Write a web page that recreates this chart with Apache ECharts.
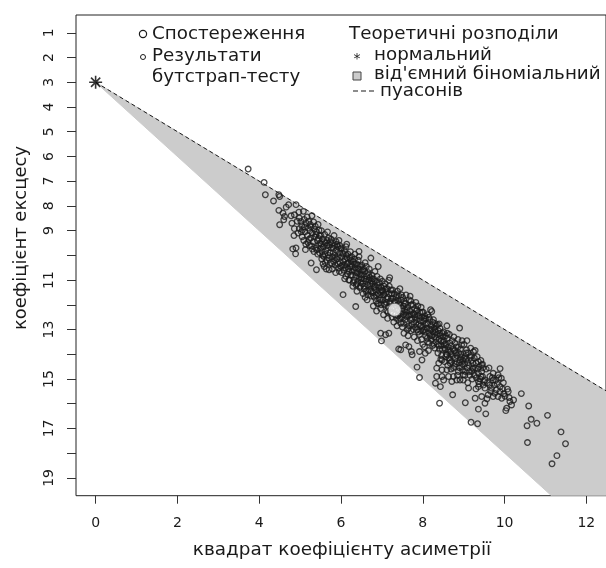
<!DOCTYPE html>
<html>
<head>
<meta charset="utf-8">
<script src="https://cdn.jsdelivr.net/npm/echarts@6/dist/echarts.min.js"></script>
<style>html,body{margin:0;padding:0;background:#fff}#c{width:606px;height:568px}</style>
</head>
<body>
<div id="c"></div>
<script>
// ---- data ----
var xTickValues = [0, 2, 4, 6, 8, 10, 12];
var yTickValues = [1,2,3,4,5,6,7,8,9,10,11,12,13,14,15,16,17,18,19];
var yTickLabels = [1,2,3,4,5,6,7,8,9,11,13,15,17,19];
var normalPoint = [[0, 3]];
var observation = [[7.31, 12.2]];
var poissonLine = [[0, 3], [14, 17]];
var negbinRegion = [[0, 3], [14, 17], [14, 24]];
var bootstrap = [
[3.73,6.51],[4.12,7.05],[4.15,7.55],[4.35,7.80],[4.48,7.55],[4.50,7.62],[4.48,8.18],[4.58,8.29],[4.62,8.43],[4.60,8.56],[4.72,7.95],[4.50,8.76],[4.66,8.05],
[4.90,7.95],[4.78,8.40],[4.86,8.36],[4.98,8.49],[4.86,8.92],[4.98,8.92],[4.82,9.74],[4.90,9.70],[4.89,9.94],[4.80,8.70],[4.93,8.62],[4.95,9.10],[4.85,9.20],[4.97,8.25],
[5.02,8.63],[5.08,8.22],[5.06,8.96],[5.13,9.77],[5.04,8.80],[5.10,8.55],[5.12,9.05],[5.15,8.70],[5.18,9.20],[5.20,8.90],[5.22,9.35],[5.05,9.25],[5.17,8.45],[5.24,9.00],[5.09,9.40],[5.21,8.62],[5.14,9.55],[5.23,9.60],
[5.29,8.40],[5.27,10.31],[5.40,10.58],[5.27,8.85],[5.30,9.10],[5.32,9.45],[5.35,8.95],[5.36,9.25],[5.38,9.70],[5.40,9.05],[5.42,9.40],[5.44,8.75],[5.45,9.60],[5.47,9.20],[5.48,9.90],[5.30,9.75],[5.33,8.65],[5.43,9.95],[5.49,9.50],[5.26,9.30],[5.39,9.15],[5.46,8.98],
[5.59,10.45],[5.71,10.58],[5.51,9.20],[5.52,9.55],[5.54,9.85],[5.55,9.35],[5.57,9.65],[5.58,10.05],[5.60,9.15],[5.62,9.50],[5.63,9.80],[5.65,10.20],[5.66,9.40],[5.68,9.70],[5.69,10.00],[5.70,9.30],[5.72,9.58],[5.73,9.90],[5.74,10.30],[5.53,10.15],[5.61,9.95],[5.67,9.05],[5.56,10.35],[5.64,10.55],
[5.76,9.35],[5.77,9.70],[5.78,10.05],[5.80,9.50],[5.81,9.88],[5.82,10.25],[5.84,9.60],[5.85,10.00],[5.86,10.40],[5.88,9.45],[5.89,9.80],[5.90,10.15],[5.92,9.65],[5.93,10.05],[5.94,10.50],[5.95,9.40],[5.97,9.90],[5.98,10.30],[5.99,9.75],[5.79,10.55],[5.87,10.70],[5.96,10.65],[5.83,9.20],
[6.05,11.59],[6.01,9.70],[6.02,10.05],[6.03,10.40],[6.04,9.90],[6.06,10.25],[6.07,10.60],[6.08,9.80],[6.10,10.15],[6.11,10.50],[6.12,9.65],[6.13,10.00],[6.15,10.35],[6.16,10.75],[6.17,9.95],[6.18,10.30],[6.20,10.65],[6.21,10.10],[6.22,10.45],[6.23,9.85],[6.24,10.80],[6.09,10.95],[6.19,11.00],[6.14,9.55],[6.25,10.20],
[6.36,12.07],[6.44,9.84],[6.26,10.05],[6.27,10.45],[6.28,10.80],[6.30,10.25],[6.31,10.60],[6.32,11.00],[6.33,10.15],[6.35,10.50],[6.36,10.85],[6.37,11.20],[6.38,10.35],[6.40,10.70],[6.41,11.05],[6.42,10.20],[6.43,10.55],[6.45,10.90],[6.46,11.30],[6.47,10.45],[6.48,10.80],[6.49,11.10],[6.29,11.25],[6.39,11.45],[6.34,9.95],[6.44,10.05],[6.50,10.65],
[6.73,10.11],[6.51,10.40],[6.52,10.80],[6.53,11.15],[6.55,10.55],[6.56,10.95],[6.57,11.35],[6.58,10.65],[6.60,11.05],[6.61,11.45],[6.62,10.45],[6.63,10.85],[6.65,11.20],[6.66,11.60],[6.67,10.70],[6.68,11.00],[6.70,11.40],[6.71,10.90],[6.72,11.25],[6.74,11.65],[6.54,11.55],[6.64,11.80],[6.59,10.30],[6.69,10.55],[6.75,11.05],
[6.91,10.45],[6.97,13.15],[6.99,13.46],[6.76,10.80],[6.77,11.15],[6.78,11.50],[6.80,10.95],[6.81,11.30],[6.82,11.70],[6.84,11.05],[6.85,11.40],[6.86,11.85],[6.88,10.85],[6.89,11.20],[6.90,11.55],[6.92,11.95],[6.93,11.10],[6.94,11.45],[6.95,11.80],[6.96,10.95],[6.98,11.30],[6.99,11.70],[6.79,12.05],[6.87,12.25],[6.83,10.65],[6.97,12.15],
[7.09,13.21],[7.17,13.15],[7.01,11.05],[7.02,11.45],[7.03,11.80],[7.05,11.25],[7.06,11.60],[7.07,12.00],[7.08,11.15],[7.10,11.50],[7.11,11.90],[7.12,12.25],[7.13,11.35],[7.15,11.70],[7.16,12.10],[7.17,11.00],[7.18,11.55],[7.20,11.85],[7.21,12.30],[7.22,11.40],[7.23,11.75],[7.24,12.15],[7.04,12.40],[7.14,12.55],[7.19,10.90],[7.25,12.50],
[7.26,11.40],[7.27,11.75],[7.28,12.10],[7.30,11.55],[7.32,11.90],[7.33,12.40],[7.34,11.70],[7.35,12.55],[7.36,12.05],[7.38,11.45],[7.39,11.85],[7.40,12.20],[7.41,12.60],[7.42,11.65],[7.43,12.00],[7.45,12.35],[7.46,12.75],[7.47,11.80],[7.48,12.15],[7.49,12.50],[7.29,12.70],[7.37,12.85],[7.44,11.35],[7.50,12.90],
[7.46,13.82],[7.58,13.62],[7.66,13.69],[7.41,13.79],[7.51,11.70],[7.52,12.05],[7.53,12.40],[7.55,11.85],[7.56,12.20],[7.57,12.60],[7.58,11.95],[7.60,12.30],[7.61,12.70],[7.62,13.00],[7.63,12.10],[7.65,12.45],[7.66,12.85],[7.67,11.80],[7.68,12.25],[7.70,12.60],[7.71,13.05],[7.72,12.00],[7.73,12.40],[7.74,12.80],[7.54,13.15],[7.64,13.25],[7.59,11.60],[7.69,11.65],
[7.92,14.94],[7.92,13.89],[7.74,14.02],[7.72,13.89],[7.86,14.52],[7.98,14.23],[7.76,12.00],[7.77,12.35],[7.78,12.70],[7.80,12.15],[7.81,12.50],[7.82,12.90],[7.84,12.25],[7.85,12.60],[7.86,13.00],[7.88,12.05],[7.89,12.45],[7.90,12.80],[7.92,13.20],[7.93,12.30],[7.94,12.65],[7.95,13.05],[7.96,12.10],[7.98,12.50],[7.99,12.90],[7.79,13.30],[7.87,13.45],[7.83,11.90],[7.97,13.40],[8.00,13.60],
[8.22,12.27],[8.06,13.96],[8.01,12.30],[8.02,12.65],[8.03,13.00],[8.05,12.45],[8.06,12.80],[8.07,13.25],[8.08,12.55],[8.10,12.95],[8.11,13.35],[8.12,12.40],[8.13,12.75],[8.15,13.15],[8.16,13.55],[8.17,12.60],[8.18,13.00],[8.20,13.40],[8.21,12.85],[8.23,13.25],[8.24,13.65],[8.04,13.70],[8.14,13.85],[8.19,12.20],[8.25,13.10],
[8.40,12.77],[8.41,15.98],[8.31,15.17],[8.34,14.56],[8.39,14.36],[8.47,14.23],[8.47,14.90],[8.34,14.90],[8.43,15.31],[8.47,14.63],[8.26,12.60],[8.27,12.95],[8.28,13.30],[8.30,12.75],[8.31,13.10],[8.32,13.50],[8.33,12.85],[8.35,13.20],[8.36,13.60],[8.37,13.95],[8.38,13.05],[8.40,13.40],[8.41,13.80],[8.42,12.95],[8.43,13.25],[8.45,13.65],[8.46,14.05],[8.48,13.15],[8.49,13.50],[8.29,13.75],[8.44,14.20],
[8.59,12.85],[8.73,15.64],[8.69,13.98],[8.55,13.82],[8.59,14.02],[8.67,14.36],[8.59,14.63],[8.75,14.56],[8.63,14.90],[8.71,15.10],[8.51,15.04],[8.75,14.90],[8.51,13.10],[8.52,13.45],[8.54,13.75],[8.56,13.25],[8.57,13.60],[8.58,14.00],[8.60,13.35],[8.62,13.70],[8.64,14.15],[8.65,13.20],[8.66,13.55],[8.68,13.90],[8.70,14.30],[8.72,13.45],[8.74,13.80],[8.53,14.30],[8.61,14.45],[8.69,14.60],
[8.90,12.94],[8.79,13.55],[8.95,13.62],[8.79,14.16],[8.91,14.23],[8.99,14.83],[8.83,15.04],[8.95,14.50],[8.87,14.70],[8.91,15.04],[8.99,15.04],[8.76,13.30],[8.78,13.85],[8.80,14.40],[8.82,13.70],[8.84,14.05],[8.86,13.40],[8.88,13.95],[8.89,14.35],[8.92,13.80],[8.94,14.10],[8.96,13.45],[8.98,14.25],[8.85,14.85],[8.97,14.65],
[9.04,15.96],[9.18,16.75],[9.12,15.37],[9.04,14.09],[9.16,14.12],[9.22,14.36],[9.07,13.82],[9.20,14.70],[9.04,14.70],[9.01,13.60],[9.03,14.40],[9.06,14.20],[9.09,14.55],[9.11,13.95],[9.13,14.45],[9.15,14.85],[9.17,13.75],[9.19,14.25],[9.21,15.00],[9.23,14.60],[9.24,13.90],[9.10,15.15],[9.08,13.45],
[9.28,13.85],[9.34,16.81],[9.36,16.22],[9.28,15.78],[9.44,15.71],[9.36,15.10],[9.36,14.30],[9.44,14.43],[9.36,14.77],[9.44,14.70],[9.36,15.31],[9.26,14.15],[9.29,14.55],[9.31,14.95],[9.33,14.10],[9.38,14.50],[9.40,15.00],[9.42,14.25],[9.46,14.90],[9.48,15.25],[9.30,15.40],[9.47,14.55],
[9.54,16.41],[9.52,15.98],[9.52,15.04],[9.64,14.90],[9.72,14.77],[9.68,15.37],[9.72,15.71],[9.60,15.64],[9.52,15.37],[9.64,15.24],[9.72,15.04],[9.76,15.58],[9.55,14.60],[9.58,15.15],[9.62,14.55],[9.66,15.50],[9.70,14.95],[9.74,15.25],[9.57,15.80],
[9.89,14.58],[9.92,14.97],[9.80,15.44],[9.89,15.51],[9.84,15.71],[9.93,15.78],[9.84,14.83],[9.89,15.31],[9.78,15.05],[9.82,15.20],[9.86,14.95],[9.95,15.40],[9.98,15.60],[9.97,15.15],
[10.07,15.41],[10.09,15.51],[10.13,15.91],[10.05,16.18],[10.03,16.28],[10.01,15.70],[10.11,15.75],[10.17,16.05],[10.22,15.85],
[10.41,15.59],[10.59,16.09],[10.65,16.63],[10.79,16.79],[10.55,16.89],[11.05,16.47],[10.56,17.57],[11.38,17.14],[11.49,17.62],[11.28,18.10],[11.16,18.43],
[5.03,9.05],[5.11,8.85],[5.19,9.48],[5.25,8.75],[5.28,9.62],[5.34,9.85],[5.37,8.82],[5.41,9.78],[5.45,9.32],[5.50,9.72],
[5.52,9.00],[5.55,10.00],[5.58,9.45],[5.62,10.30],[5.66,9.60],[5.70,10.10],[5.74,9.45],[5.78,10.35],[5.82,9.72],[5.86,10.10],[5.90,9.55],[5.93,10.35],[5.97,9.60],[6.00,10.45],
[6.02,10.70],[6.06,9.95],[6.09,10.40],[6.12,10.85],[6.15,10.10],[6.18,10.55],[6.21,11.00],[6.24,10.35],[6.27,10.65],[6.30,11.10],[6.33,10.35],[6.36,10.70],[6.39,11.15],[6.42,10.40],[6.45,10.75],[6.48,11.25],[6.50,10.95],
[6.53,10.60],[6.56,11.25],[6.59,11.70],[6.62,10.95],[6.65,11.45],[6.68,10.80],[6.71,11.15],[6.74,11.45],[6.77,10.95],[6.80,11.65],[6.83,11.25],[6.86,11.60],[6.89,11.95],[6.92,11.30],[6.95,11.60],[6.98,12.00],[7.00,11.40],
[7.03,11.60],[7.06,11.95],[7.09,11.35],[7.12,11.75],[7.15,12.30],[7.18,11.25],[7.21,11.95],[7.24,11.55],[7.27,12.35],[7.30,11.85],[7.33,12.15],[7.36,11.60],[7.39,12.45],[7.42,11.95],[7.45,12.55],[7.48,11.60],[7.50,12.25],
[7.53,12.75],[7.56,11.95],[7.59,12.45],[7.62,12.20],[7.65,12.95],[7.68,12.40],[7.71,11.85],[7.74,12.55],[7.77,13.00],[7.80,12.40],[7.83,12.75],[7.86,12.20],[7.89,13.10],[7.92,12.55],[7.95,12.85],[7.98,12.30],[8.00,13.05],
[8.03,12.55],[8.06,13.10],[8.09,12.75],[8.12,13.50],[8.15,12.50],[8.18,13.25],[8.21,13.00],[8.24,12.70],[8.27,13.60],[8.30,13.00],[8.33,13.35],[8.36,12.80],[8.39,13.65],[8.42,13.15],[8.45,13.45],[8.48,13.80],[8.50,13.30],
[8.53,13.60],[8.56,14.10],[8.60,13.15],[8.63,13.85],[8.66,14.25],[8.70,13.65],[8.73,14.05],[8.77,14.50],[8.80,13.95],[8.83,14.30],[8.87,13.70],[8.90,14.55],[8.93,14.00],[8.97,14.40],[9.00,14.15],
[9.03,14.85],[9.06,13.95],[9.10,14.35],[9.14,14.70],[9.18,14.05],[9.22,14.55],[9.26,14.85],[9.30,14.35],[9.34,14.60],[9.38,15.20],[9.42,14.90],[9.46,14.40],[9.50,15.10]
];

// ---- chart ----
var DARK = '#1a1a1a';
var FONT = '"DejaVu Sans", sans-serif';
var chart = echarts.init(document.getElementById('c'), null, {renderer: 'canvas'});
var starPath = 'path://M5,0L5,10M0,5L10,5M1.46,1.46L8.54,8.54M1.46,8.54L8.54,1.46';

chart.setOption({
  animation: false,
  grid: {left: 76, top: 15, width: 532, height: 480.7, show: true,
         borderColor: '#222', borderWidth: 1, backgroundColor: 'transparent'},
  xAxis: {
    type: 'value', min: -0.48, max: 12.48,
    axisLine: {show: false, onZero: false},
    splitLine: {show: false},
    axisTick: {show: true, inside: false, length: 8, customValues: xTickValues,
               lineStyle: {color: '#333', width: 1}},
    axisLabel: {customValues: xTickValues, margin: 21, color: DARK,
                fontFamily: FONT, fontSize: 14}
  },
  yAxis: {
    type: 'value', inverse: true, min: 0.28, max: 19.72,
    axisLine: {show: false, onZero: false},
    splitLine: {show: false},
    axisTick: {show: true, inside: false, length: 9, customValues: yTickValues,
               lineStyle: {color: '#333', width: 1}},
    axisLabel: {customValues: yTickLabels, rotate: 90, margin: 20, color: DARK,
                fontFamily: FONT, fontSize: 14}
  },
  series: [
    {
      type: 'custom', name: 'від\'ємний біноміальний', clip: true, z: 1, silent: true,
      data: [negbinRegion[0]],
      renderItem: function (params, api) {
        var pts = negbinRegion.map(function (p) { return api.coord(p); });
        return {type: 'polygon', shape: {points: pts},
                style: {fill: '#cccccc', stroke: '#cccccc', lineWidth: 1}};
      }
    },
    {
      type: 'line', name: 'пуасонів', data: poissonLine, symbol: 'none', z: 2, silent: true,
      lineStyle: {color: DARK, width: 1, type: [4, 3]}
    },
    {
      type: 'scatter', name: 'Результати бутстрап-тесту', data: bootstrap, z: 3, silent: true,
      symbol: 'circle', symbolSize: 5.6, large: false,
      itemStyle: {color: 'rgba(255,255,255,0)', borderColor: '#1c1c1c', borderWidth: 1.3}
    },
    {
      type: 'scatter', name: 'Спостереження', data: observation, z: 4, silent: true,
      symbol: 'circle', symbolSize: 13,
      itemStyle: {color: '#ffffff', borderColor: '#555', borderWidth: 0.8}
    },
    {
      type: 'scatter', name: 'нормальний', data: normalPoint, z: 5, silent: true,
      symbol: starPath, symbolSize: 13,
      itemStyle: {color: 'rgba(0,0,0,0)', borderColor: '#000', borderWidth: 1.6}
    }
  ],
  graphic: [
    {type: 'text', x: 342, y: 550, z: 10,
     style: {text: 'квадрат коефіцієнту асиметрії', font: '18.4px ' + FONT, fill: DARK,
             textAlign: 'center', textVerticalAlign: 'middle', align: 'center', verticalAlign: 'middle'}},
    {type: 'text', x: 21, y: 238, rotation: Math.PI / 2, z: 10,
     style: {text: 'коефіцієнт ексцесу', font: '18px ' + FONT, fill: DARK,
             textAlign: 'center', textVerticalAlign: 'middle', align: 'center', verticalAlign: 'middle'}},
    // legend, left column
    {type: 'circle', shape: {cx: 143, cy: 34, r: 3.6}, z: 10,
     style: {fill: 'none', stroke: DARK, lineWidth: 1.2}},
    {type: 'text', x: 152, y: 34, z: 10,
     style: {text: 'Спостереження', font: '18.3px ' + FONT, fill: DARK,
             textAlign: 'left', textVerticalAlign: 'middle', align: 'left', verticalAlign: 'middle'}},
    {type: 'circle', shape: {cx: 143, cy: 57, r: 2.5}, z: 10,
     style: {fill: 'none', stroke: DARK, lineWidth: 1}},
    {type: 'text', x: 152, y: 56, z: 10,
     style: {text: 'Результати', font: '18.3px ' + FONT, fill: DARK,
             textAlign: 'left', textVerticalAlign: 'middle', align: 'left', verticalAlign: 'middle'}},
    {type: 'text', x: 152, y: 77, z: 10,
     style: {text: 'бутстрап-тесту', font: '18.3px ' + FONT, fill: DARK,
             textAlign: 'left', textVerticalAlign: 'middle', align: 'left', verticalAlign: 'middle'}},
    // legend, right column
    {type: 'text', x: 349, y: 34, z: 10,
     style: {text: 'Теоретичні розподіли', font: '18.3px ' + FONT, fill: DARK,
             textAlign: 'left', textVerticalAlign: 'middle', align: 'left', verticalAlign: 'middle'}},
    {type: 'text', x: 357, y: 59, z: 10,
     style: {text: '*', font: '14px ' + FONT, fill: DARK,
             textAlign: 'center', textVerticalAlign: 'middle', align: 'center', verticalAlign: 'middle'}},
    {type: 'text', x: 374, y: 55, z: 10,
     style: {text: 'нормальний', font: '18.3px ' + FONT, fill: DARK,
             textAlign: 'left', textVerticalAlign: 'middle', align: 'left', verticalAlign: 'middle'}},
    {type: 'rect', shape: {x: 353, y: 72, width: 8, height: 8}, z: 10,
     style: {fill: '#cccccc', stroke: '#444', lineWidth: 1}},
    {type: 'text', x: 374, y: 74, z: 10,
     style: {text: 'від\'ємний біноміальний', font: '18.3px ' + FONT, fill: DARK,
             textAlign: 'left', textVerticalAlign: 'middle', align: 'left', verticalAlign: 'middle'}},
    {type: 'line', shape: {x1: 353, y1: 91, x2: 376, y2: 91}, z: 10,
     style: {stroke: DARK, lineWidth: 1.2, lineDash: [5, 3]}},
    {type: 'text', x: 380, y: 91, z: 10,
     style: {text: 'пуасонів', font: '18.3px ' + FONT, fill: DARK,
             textAlign: 'left', textVerticalAlign: 'middle', align: 'left', verticalAlign: 'middle'}}
  ]
});
</script>
</body>
</html>
